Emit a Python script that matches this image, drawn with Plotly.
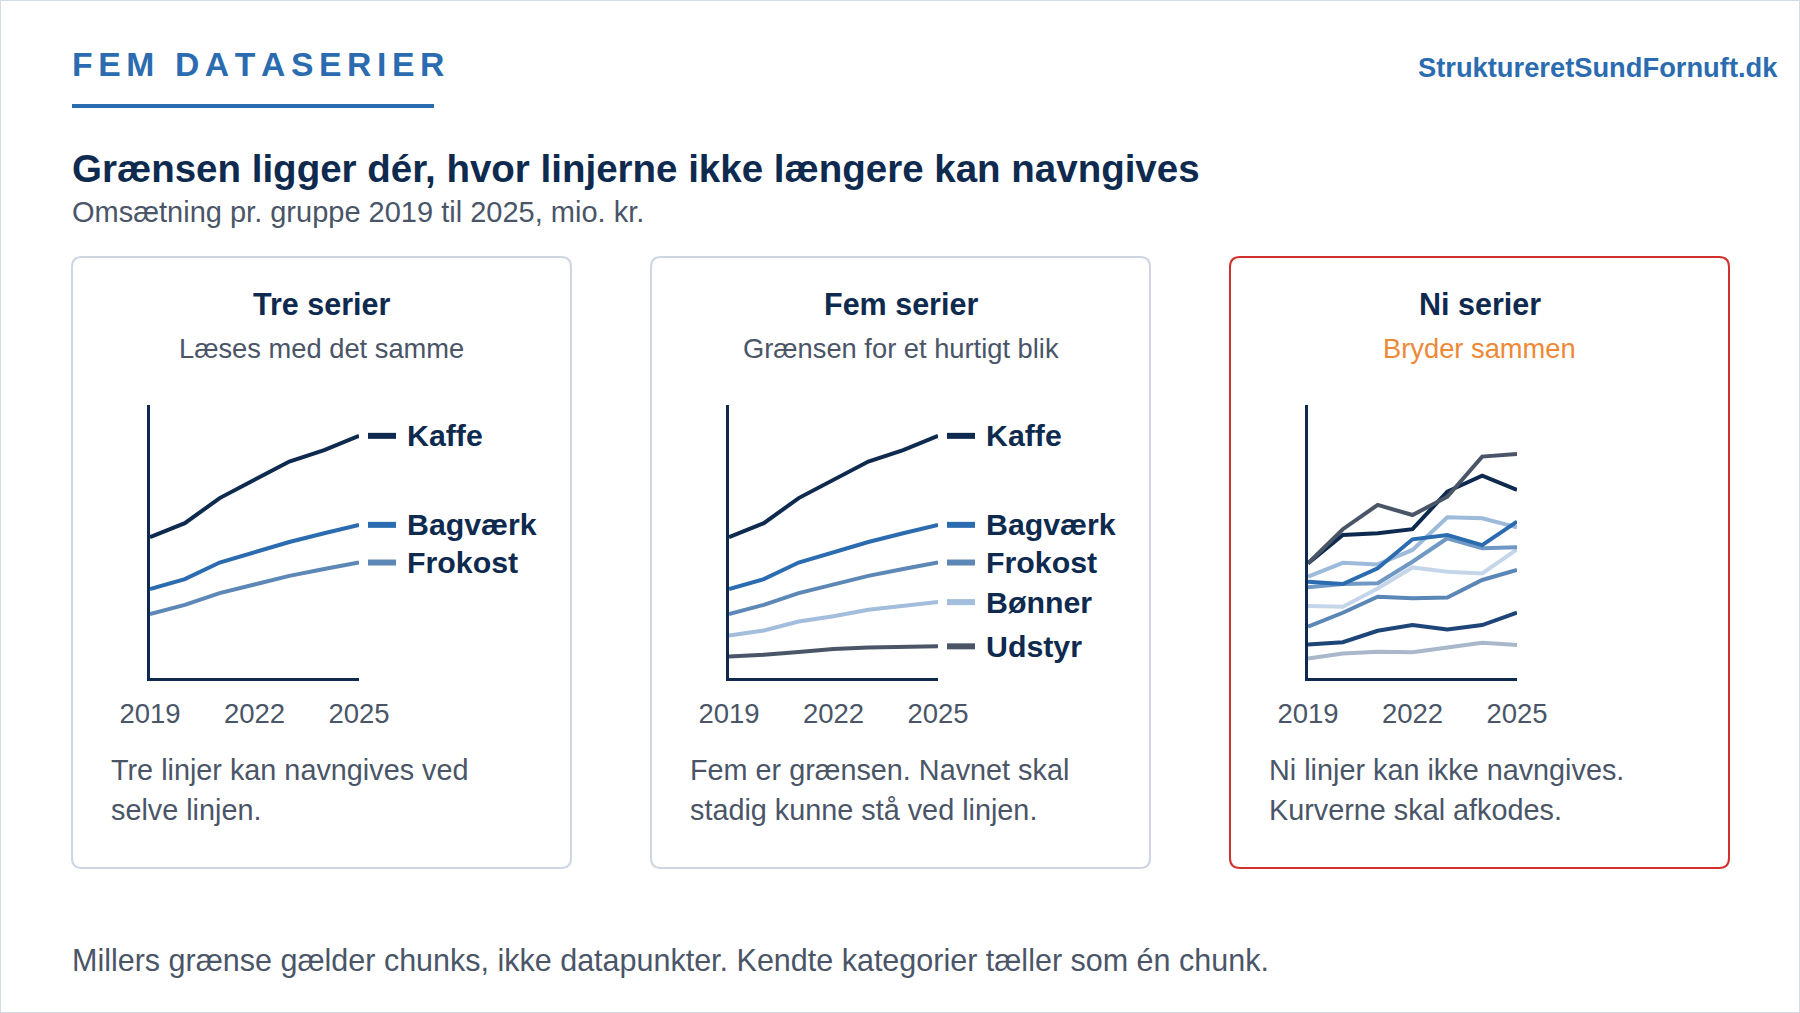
import plotly.graph_objects as go

W, H = 1800, 1013

# ---------------------------------------------------------------------------
# Data: omsætning pr. gruppe 2019-2025 (indekseret)
# ---------------------------------------------------------------------------
years = [2019, 2020, 2021, 2022, 2023, 2024, 2025]
tick_years = [2019, 2022, 2025]

kaffe = [51.6, 56.7, 65.9, 72.6, 79.3, 83.5, 88.7]
bagvaerk = [32.6, 36.2, 42.3, 46.0, 49.8, 53.0, 56.1]
frokost = [23.4, 26.8, 31.1, 34.4, 37.4, 39.9, 42.3]
boenner = [15.6, 17.4, 20.7, 22.6, 25.0, 26.5, 27.8]
udstyr = [7.9, 8.5, 9.5, 10.6, 11.2, 11.3, 11.6]

# ni serier - uden navne i figuren
ni_a = [7.1, 9.0, 9.6, 9.4, 11.2, 12.9, 12.1]
ni_b = [26.4, 26.1, 32.8, 40.5, 38.9, 38.3, 47.1]
ni_c = [37.1, 42.2, 41.6, 46.9, 58.9, 58.5, 55.2]
ni_d = [33.2, 34.4, 34.7, 42.6, 51.2, 47.5, 47.9]
ni_e = [18.8, 23.9, 29.8, 29.2, 29.5, 35.9, 39.6]
ni_f = [35.3, 34.4, 40.2, 50.8, 52.4, 48.7, 57.3]
ni_g = [12.3, 13.1, 17.3, 19.4, 17.8, 19.4, 23.9]
ni_h = [42.0, 52.4, 53.0, 54.5, 68.3, 74.1, 68.9]
ni_i = [42.0, 54.5, 63.4, 59.7, 66.4, 81.1, 82.1]

navne_tre = ["Kaffe", "Bagværk", "Frokost"]
navne_fem = ["Kaffe", "Bagværk", "Frokost", "Bønner", "Udstyr"]

NAVY = "#0f2a4f"
BLUE = "#2b6cb0"
GRAY = "#4a5568"
BORDER = "#cdd6e2"
RED = "#d0312d"
ORANGE = "#ed8936"
FONT = "Liberation Sans, Arial, sans-serif"

farver_fem = [NAVY, BLUE, "#5c87b6", "#a3bddc", GRAY]
farver_ni = ["#a8b7ca", "#c5d6ea", "#9dbadb", "#6f98c4", "#5b87b6",
             BLUE, "#1e4577", NAVY, GRAY]

panels = [
    {"title": "Tre serier", "sub": "Læses med det samme", "sub_color": GRAY,
     "body": ["Tre linjer kan navngives ved", "selve linjen."],
     "series": [kaffe, bagvaerk, frokost], "names": navne_tre,
     "colors": farver_fem[:3], "border": BORDER},
    {"title": "Fem serier", "sub": "Grænsen for et hurtigt blik", "sub_color": GRAY,
     "body": ["Fem er grænsen. Navnet skal", "stadig kunne stå ved linjen."],
     "series": [kaffe, bagvaerk, frokost, boenner, udstyr], "names": navne_fem,
     "colors": farver_fem, "border": BORDER},
    {"title": "Ni serier", "sub": "Bryder sammen", "sub_color": ORANGE,
     "body": ["Ni linjer kan ikke navngives.", "Kurverne skal afkodes."],
     "series": [ni_a, ni_b, ni_c, ni_d, ni_e, ni_f, ni_g, ni_h, ni_i], "names": None,
     "colors": farver_ni, "border": RED},
]


def px(x):
    return x / W


def py(y):
    return 1 - y / H


def rounded_rect(x0, y0, x1, y1, r):
    rx, ry = r / W, r / H
    X0, X1, Y0, Y1 = px(x0), px(x1), py(y0), py(y1)
    return (f"M {X0 + rx},{Y0} L {X1 - rx},{Y0} Q {X1},{Y0} {X1},{Y0 - ry} "
            f"L {X1},{Y1 + ry} Q {X1},{Y1} {X1 - rx},{Y1} "
            f"L {X0 + rx},{Y1} Q {X0},{Y1} {X0},{Y1 + ry} "
            f"L {X0},{Y0 - ry} Q {X0},{Y0} {X0 + rx},{Y0} Z")


fig = go.Figure()
shapes = []
annotations = []

CARD_X0, CARD_W, CARD_STEP = 72, 499, 579
CARD_TOP, CARD_BOT = 257, 868
AX_X0, AX_X1, AX_TOP, AX_BOT = 150, 359, 405, 678
TEXT_X = 70  # venstrekant for overskrifter (annotation-polstring trukket fra)

for i, p in enumerate(panels):
    off = i * CARD_STEP
    n = i + 1
    xa = "x" if n == 1 else f"x{n}"
    ya = "y" if n == 1 else f"y{n}"

    # kort
    shapes.append(dict(type="path", xref="paper", yref="paper", layer="below",
                       path=rounded_rect(CARD_X0 + off, CARD_TOP, CARD_X0 + off + CARD_W, CARD_BOT, 10),
                       line=dict(color=p["border"], width=2), fillcolor="white"))
    cx = CARD_X0 + off + CARD_W / 2
    annotations.append(dict(text=f"<b>{p['title']}</b>", x=px(cx), y=py(304), xref="paper", yref="paper",
                            showarrow=False, xanchor="center", yanchor="middle",
                            font=dict(size=30.5, color=NAVY, family=FONT)))
    annotations.append(dict(text=p["sub"], x=px(cx), y=py(348), xref="paper", yref="paper",
                            showarrow=False, xanchor="center", yanchor="middle",
                            font=dict(size=27.3, color=p["sub_color"], family=FONT)))
    for j, line in enumerate(p["body"]):
        annotations.append(dict(text=line, x=px(CARD_X0 + off + 37), y=py(770 + 40 * j),
                                xref="paper", yref="paper", showarrow=False,
                                xanchor="left", yanchor="middle",
                                font=dict(size=28.8, color=GRAY, family=FONT)))

    # linjer
    for s, c in zip(p["series"], p["colors"]):
        fig.add_trace(go.Scatter(x=years, y=s, mode="lines", xaxis=xa, yaxis=ya,
                                 line=dict(color=c, width=4), hoverinfo="skip", showlegend=False))

    axis_x = dict(domain=[px(AX_X0 + off), px(AX_X1 + off)], range=[years[0], years[-1]],
                  showgrid=False, zeroline=False, showline=True, linecolor=NAVY, linewidth=3,
                  tickvals=tick_years, ticks="", ticklabelstandoff=9, automargin=False,
                  tickfont=dict(size=27.5, color=GRAY, family=FONT), anchor=ya, fixedrange=True)
    axis_y = dict(domain=[py(AX_BOT), py(AX_TOP)], range=[0, 100], showgrid=False, zeroline=False,
                  showline=True, linecolor=NAVY, linewidth=3, showticklabels=False, ticks="",
                  automargin=False, anchor=xa, fixedrange=True)
    fig.layout["xaxis" if n == 1 else f"xaxis{n}"] = axis_x
    fig.layout["yaxis" if n == 1 else f"yaxis{n}"] = axis_y

    # navne ved linjen: farvet streg på en skjult akse ved siden af plottet
    if p["names"]:
        sw = 4 + i
        fig.layout[f"xaxis{sw}"] = dict(domain=[px(AX_X1 + off + 9), px(AX_X1 + off + 37)],
                                        range=[0, 1], visible=False, anchor=ya, fixedrange=True)
        for s, c, name in zip(p["series"], p["colors"], p["names"]):
            fig.add_trace(go.Scatter(x=[0, 1], y=[s[-1], s[-1]], mode="lines",
                                     xaxis=f"x{sw}", yaxis=ya, line=dict(color=c, width=6),
                                     hoverinfo="skip", showlegend=False))
            annotations.append(dict(text=f"<b>{name}</b>", x=1, y=s[-1], xref=f"x{sw}", yref=ya,
                                    xshift=9, showarrow=False, xanchor="left", yanchor="middle",
                                    font=dict(size=30.3, color=NAVY, family=FONT)))

# ramme og overskrifter
shapes.append(dict(type="rect", xref="paper", yref="paper", x0=0, x1=1, y0=0, y1=1,
                   line=dict(color="#d3dbe6", width=2), layer="below"))
shapes.append(dict(type="line", xref="paper", yref="paper", x0=px(72), x1=px(434), y0=py(106), y1=py(106),
                   line=dict(color=BLUE, width=4)))

spaced = "\u2006".join("FEM DATASERIER")
annotations += [
    dict(text=f"<b>{spaced}</b>", x=px(TEXT_X), y=py(64), xanchor="left", yanchor="middle",
         font=dict(size=33.7, color=BLUE, family=FONT)),
    dict(text="<b>StruktureretSundFornuft.dk</b>", x=px(1780), y=py(67), xanchor="right", yanchor="middle",
         font=dict(size=27.3, color=BLUE, family=FONT)),
    dict(text="<b>Grænsen ligger dér, hvor linjerne ikke længere kan navngives</b>", x=px(TEXT_X), y=py(168),
         xanchor="left", yanchor="middle", font=dict(size=38.5, color=NAVY, family=FONT)),
    dict(text="Omsætning pr. gruppe 2019 til 2025, mio. kr.", x=px(TEXT_X), y=py(212),
         xanchor="left", yanchor="middle", font=dict(size=29, color=GRAY, family=FONT)),
    dict(text="Millers grænse gælder chunks, ikke datapunkter. Kendte kategorier tæller som én chunk.",
         x=px(TEXT_X), y=py(960), xanchor="left", yanchor="middle", font=dict(size=30.5, color=GRAY, family=FONT)),
]
for a in annotations[-5:]:
    a.update(xref="paper", yref="paper", showarrow=False)

fig.update_layout(width=W, height=H, margin=dict(l=0, r=0, t=0, b=0, autoexpand=False),
                  paper_bgcolor="white", plot_bgcolor="rgba(0,0,0,0)",
                  shapes=shapes, annotations=annotations, showlegend=False,
                  font=dict(family=FONT))

fig.write_html("out.html", config={"displayModeBar": False},
               post_script="document.body.style.margin='0';document.body.style.overflow='hidden';")
